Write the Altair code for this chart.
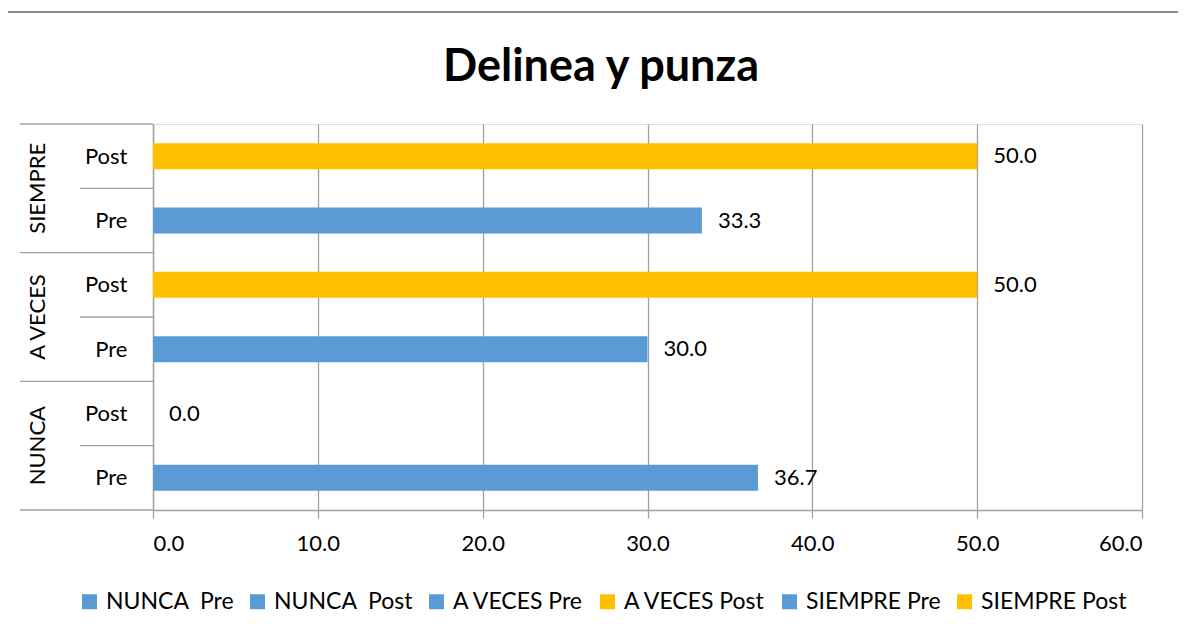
import altair as alt
import pandas as pd

# ---- data ----
groups = ["NUNCA", "NUNCA", "A VECES", "A VECES", "SIEMPRE", "SIEMPRE"]
phases = ["Pre", "Post", "Pre", "Post", "Pre", "Post"]
values = [36.7, 0.0, 30.0, 50.0, 33.3, 50.0]
bar_colors = ["#5B9BD5", "#5B9BD5", "#5B9BD5", "#FFC000", "#5B9BD5", "#FFC000"]
x_ticks = [0, 10, 20, 30, 40, 50, 60]
title_text = "Delinea y punza"

FONT = "Lato"
NB = "\u00a0"
series = [
    (g + NB + NB + p) if g == "NUNCA" else (g + " " + p)
    for g, p in zip(groups, phases)
]

n = len(groups)
df = pd.DataFrame({
    "group": groups,
    "phase": phases,
    "value": values,
    "series": series,
    "pos": [i + 0.5 for i in range(n)],
})

# boundaries of the multi-level category axis
bounds = []
for k in range(n + 1):
    is_group = k == 0 or k == n or groups[k - 1] != groups[k]
    bounds.append({"b": k, "kind": "group" if is_group else "inner"})
bdf = pd.DataFrame(bounds)
gdf = df.groupby("group", sort=False)["pos"].mean().reset_index()

W, H = 989, 386
yscale = alt.Scale(domain=[0, n], nice=False, zero=False, padding=0)
xscale = alt.Scale(domain=[x_ticks[0], x_ticks[-1]], nice=False, padding=0)

label_expr = "[" + ",".join("'" + p + "'" for p in phases) + "][floor(datum.value)]"

bars = alt.Chart(df).mark_bar(size=26, orient="horizontal").encode(
    x=alt.X("value:Q", scale=xscale,
            axis=alt.Axis(values=x_ticks, format=".1f", title=None, grid=True,
                          gridColor="#A0A0A0", gridWidth=1.3, tickColor="#A0A0A0",
                          tickSize=8, tickWidth=1.3, domainColor="#A0A0A0",
                          domainWidth=1.3, labelPadding=15, labelFontSize=22,
                          labelFont=FONT, labelColor="#000000")),
    y=alt.Y("pos:Q", scale=yscale,
            axis=alt.Axis(values=[i + 0.5 for i in range(n)], labelExpr=label_expr,
                          title=None, grid=False, ticks=False, domain=True,
                          domainColor="#A0A0A0", domainWidth=1.3,
                          labelAlign="right", labelBaseline="middle",
                          labelPadding=26, labelFontSize=22, labelFont=FONT,
                          labelColor="#000000")),
    color=alt.Color("series:N",
                    scale=alt.Scale(domain=series, range=bar_colors),
                    sort=series,
                    legend=alt.Legend(title=None, orient="none", direction="horizontal",
                                      columns=n, legendX=-75, legendY=466,
                                      symbolType="square", symbolSize=225,
                                      symbolStrokeWidth=0, labelOffset=5,
                                      columnPadding=12, labelFontSize=23,
                                      labelFont=FONT, labelColor="#000000",
                                      labelLimit=400)),
)

value_labels = alt.Chart(df).mark_text(
    align="left", baseline="middle", dx=16, fontSize=22, font=FONT, color="#000000"
).encode(
    x=alt.X("value:Q", scale=xscale),
    y=alt.Y("pos:Q", scale=yscale),
    text=alt.Text("value:Q", format=".1f"),
)

group_rules = alt.Chart(bdf).transform_filter(alt.datum.kind == "group").mark_rule(
    color="#A0A0A0", strokeWidth=1.3
).encode(
    y=alt.Y("b:Q", scale=yscale),
    x=alt.value(-133), x2=alt.value(0),
)

inner_rules = alt.Chart(bdf).transform_filter(alt.datum.kind == "inner").mark_rule(
    color="#A0A0A0", strokeWidth=1.3
).encode(
    y=alt.Y("b:Q", scale=yscale),
    x=alt.value(-73), x2=alt.value(0),
)

group_labels = alt.Chart(gdf).mark_text(
    angle=270, align="center", baseline="middle", fontSize=22, font=FONT,
    color="#000000"
).encode(
    y=alt.Y("pos:Q", scale=yscale),
    x=alt.value(-115),
    text="group:N",
)

frame_df = pd.DataFrame({"k": [0]})
frame_left = alt.Chart(frame_df).mark_rule(color="#8C8C8C", strokeWidth=2).encode(
    x=alt.value(-147), y=alt.value(-112), y2=alt.value(520)
)
frame_top = alt.Chart(frame_df).mark_rule(color="#8C8C8C", strokeWidth=2).encode(
    x=alt.value(-147), x2=alt.value(1050), y=alt.value(-112)
)

title_df = pd.DataFrame({"t": [title_text]})
title = alt.Chart(title_df).mark_text(
    font=FONT, fontSize=45, fontWeight="bold", color="#000000",
    align="center", baseline="alphabetic"
).encode(
    text="t:N", x=alt.value(448), y=alt.value(-43)
)

chart = alt.layer(
    frame_left, frame_top, group_rules, inner_rules, bars, value_labels,
    group_labels, title
).properties(
    width=W, height=H,
    autosize=alt.AutoSizeParams(type="none"),
    padding={"left": 145, "top": 116, "right": 36, "bottom": 115},
).configure_view(stroke=None).configure(background="#ffffff")

chart.save("out.html", embed_options={"renderer": "svg", "actions": False})
